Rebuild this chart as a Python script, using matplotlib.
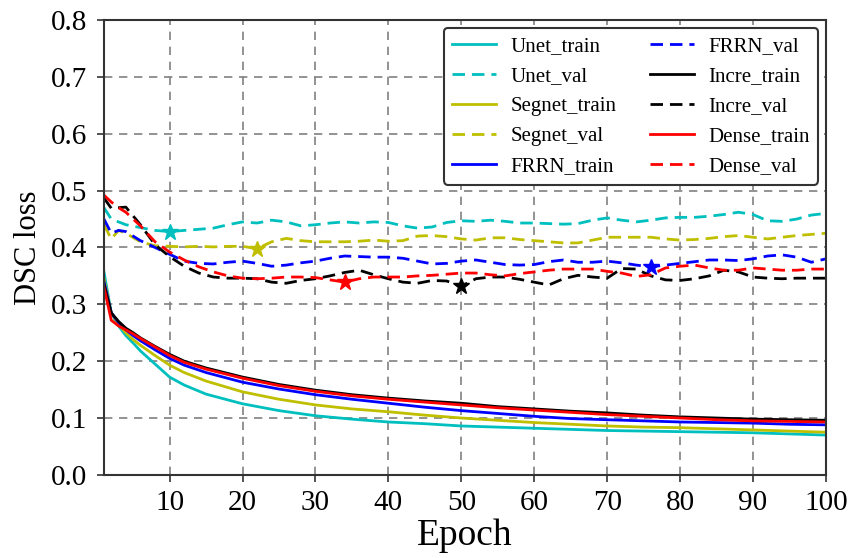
import numpy as np
import matplotlib.pyplot as plt

plt.rcParams['font.family'] = ['Liberation Serif', 'DejaVu Serif']

# validation curves (every 2 epochs)
val_epochs = [1, 2, 3, 4, 6, 8, 10, 12, 14, 16, 18, 20, 22, 24, 26, 28, 30, 32, 34, 36,
              38, 40, 42, 44, 46, 48, 50, 52, 54, 56, 58, 60, 62, 64, 66, 68, 70, 72, 74, 76,
              78, 80, 82, 84, 86, 88, 90, 92, 94, 96, 98, 100]
unet_val = [0.470, 0.450, 0.445, 0.440, 0.435, 0.430, 0.428, 0.430, 0.432, 0.434, 0.440, 0.445,
            0.443, 0.448, 0.445, 0.438, 0.440, 0.443, 0.445, 0.443, 0.445, 0.444, 0.438, 0.434,
            0.436, 0.444, 0.447, 0.446, 0.448, 0.446, 0.443, 0.443, 0.442, 0.441, 0.442, 0.448,
            0.452, 0.448, 0.445, 0.448, 0.452, 0.453, 0.453, 0.455, 0.458, 0.462, 0.458, 0.447,
            0.446, 0.450, 0.457, 0.460]
segnet_val = [0.440, 0.415, 0.430, 0.425, 0.410, 0.403, 0.402, 0.401, 0.402, 0.401, 0.402, 0.402,
              0.398, 0.410, 0.416, 0.412, 0.410, 0.410, 0.410, 0.411, 0.413, 0.411, 0.412, 0.420,
              0.421, 0.419, 0.415, 0.413, 0.417, 0.417, 0.414, 0.412, 0.410, 0.408, 0.408, 0.413,
              0.418, 0.418, 0.418, 0.418, 0.415, 0.413, 0.414, 0.416, 0.419, 0.421, 0.418, 0.415,
              0.418, 0.421, 0.423, 0.425]
frrn_val = [0.450, 0.425, 0.430, 0.428, 0.412, 0.400, 0.388, 0.376, 0.372, 0.371, 0.374, 0.376,
            0.372, 0.367, 0.369, 0.373, 0.376, 0.381, 0.385, 0.384, 0.383, 0.383, 0.381, 0.376,
            0.371, 0.372, 0.376, 0.378, 0.374, 0.370, 0.369, 0.370, 0.375, 0.378, 0.374, 0.374,
            0.376, 0.373, 0.369, 0.366, 0.369, 0.372, 0.375, 0.378, 0.378, 0.377, 0.380, 0.385,
            0.387, 0.383, 0.374, 0.380]
incre_val = [0.487, 0.469, 0.470, 0.471, 0.440, 0.405, 0.384, 0.367, 0.355, 0.348, 0.346, 0.346,
             0.345, 0.339, 0.337, 0.342, 0.345, 0.350, 0.356, 0.360, 0.352, 0.345, 0.339, 0.337,
             0.342, 0.341, 0.332, 0.345, 0.348, 0.348, 0.344, 0.339, 0.334, 0.345, 0.351, 0.348,
             0.346, 0.363, 0.362, 0.350, 0.343, 0.342, 0.345, 0.350, 0.360, 0.357, 0.348, 0.346,
             0.345, 0.346, 0.346, 0.346]
dense_val = [0.492, 0.480, 0.470, 0.462, 0.438, 0.410, 0.392, 0.378, 0.366, 0.357, 0.350, 0.346,
             0.345, 0.346, 0.348, 0.348, 0.347, 0.343, 0.339, 0.345, 0.348, 0.348, 0.348, 0.350,
             0.351, 0.353, 0.355, 0.355, 0.352, 0.350, 0.354, 0.357, 0.360, 0.362, 0.362, 0.362,
             0.358, 0.355, 0.349, 0.352, 0.364, 0.367, 0.369, 0.364, 0.360, 0.360, 0.364, 0.362,
             0.360, 0.360, 0.362, 0.362]

# training curves
train_epochs = [1, 2, 3, 4, 5, 6, 8, 10, 12, 15, 20, 25, 30, 35, 40, 45, 50, 55, 60, 65,
                70, 75, 80, 85, 90, 95, 100]
unet_train = [0.357, 0.285, 0.262, 0.245, 0.232, 0.218, 0.195, 0.172, 0.158, 0.142, 0.125, 0.113,
              0.104, 0.098, 0.093, 0.090, 0.086, 0.084, 0.082, 0.080, 0.078, 0.077, 0.076, 0.075,
              0.074, 0.072, 0.070]
segnet_train = [0.345, 0.285, 0.265, 0.250, 0.238, 0.228, 0.210, 0.193, 0.180, 0.165, 0.146, 0.133,
                0.123, 0.116, 0.111, 0.105, 0.100, 0.096, 0.092, 0.089, 0.086, 0.084, 0.083, 0.081,
                0.079, 0.077, 0.075]
frrn_train = [0.340, 0.285, 0.268, 0.255, 0.245, 0.236, 0.220, 0.205, 0.193, 0.180, 0.163, 0.151,
              0.141, 0.133, 0.126, 0.119, 0.113, 0.108, 0.103, 0.099, 0.097, 0.095, 0.093, 0.092,
              0.091, 0.089, 0.088]
incre_train = [0.335, 0.285, 0.270, 0.258, 0.250, 0.241, 0.226, 0.212, 0.200, 0.188, 0.172, 0.159,
               0.149, 0.141, 0.135, 0.130, 0.126, 0.120, 0.116, 0.112, 0.109, 0.105, 0.102, 0.100,
               0.098, 0.097, 0.096]
dense_train = [0.330, 0.272, 0.262, 0.255, 0.248, 0.240, 0.225, 0.210, 0.198, 0.186, 0.170, 0.157,
               0.147, 0.139, 0.133, 0.128, 0.123, 0.118, 0.114, 0.110, 0.106, 0.103, 0.100, 0.097,
               0.095, 0.094, 0.093]

# best val epochs (star markers)
best_epoch = {'Unet': 10, 'Segnet': 22, 'FRRN': 76, 'Incre': 50, 'Dense': 34}

models = ['Unet', 'Segnet', 'FRRN', 'Incre', 'Dense']
colors = {'Unet': 'c', 'Segnet': 'y', 'FRRN': 'b', 'Incre': 'k', 'Dense': 'r'}
train = {'Unet': unet_train, 'Segnet': segnet_train, 'FRRN': frrn_train,
         'Incre': incre_train, 'Dense': dense_train}
val = {'Unet': unet_val, 'Segnet': segnet_val, 'FRRN': frrn_val,
       'Incre': incre_val, 'Dense': dense_val}

fig = plt.figure(figsize=(8.55, 5.58), dpi=100)
ax = fig.add_axes([0.1216, 0.149, 0.8444, 0.815])

for m in models:
    ax.plot(train_epochs, train[m], '-', color=colors[m], lw=2, label=m + '_train')
    ax.plot(val_epochs, val[m], '--', color=colors[m], lw=2, dashes=(4.5, 2.5),
            label=m + '_val')
    e = best_epoch[m]
    ax.plot(e, val[m][val_epochs.index(e)], '*', color=colors[m], ms=12)

ax.set_xlim(1, 100)
ax.set_ylim(0, 0.8)
ax.set_xticks(np.arange(10, 101, 10))
ax.set_yticks(np.arange(0, 0.81, 0.1))
ax.set_yticklabels(['%.1f' % v for v in np.arange(0, 0.81, 0.1)])
ax.tick_params(direction='out', labelsize=21, length=5, width=1.2, color='#333333')
ax.tick_params(axis='y', pad=7)
ax.tick_params(axis='x', pad=6)
ax.grid(True, color='gray', lw=1.2, dashes=(5, 4))
ax.set_xlabel('Epoch', fontsize=27, labelpad=2)
ax.set_ylabel('DSC loss', fontsize=22, labelpad=6)
for s in ax.spines.values():
    s.set_linewidth(1.5)
    s.set_color('#333333')

leg = ax.legend(ncol=2, loc='upper right', fontsize=15, frameon=True, edgecolor='#333333',
                framealpha=1, handlelength=2.1, handletextpad=0.7, columnspacing=1.6,
                labelspacing=0.5, borderaxespad=0, bbox_to_anchor=(0.989, 0.982))
leg.get_frame().set_linewidth(1.5)

fig.savefig('out.png', dpi=100)
